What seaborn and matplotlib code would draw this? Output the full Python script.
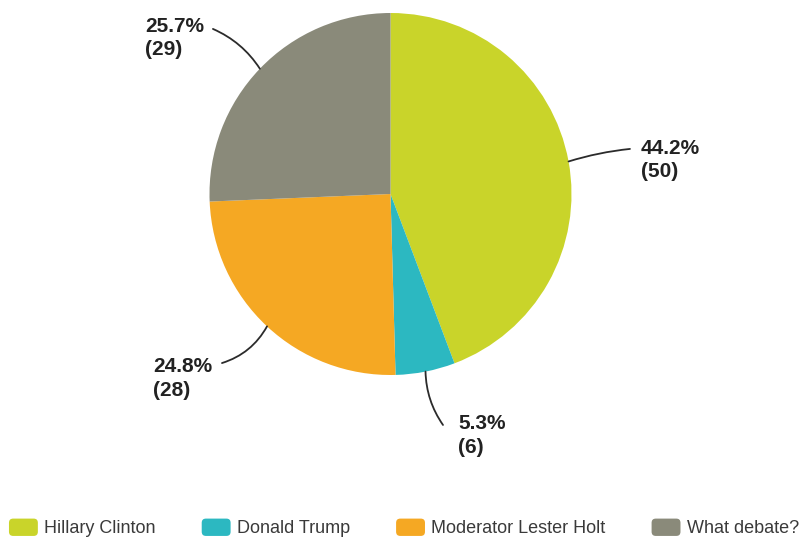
import matplotlib
matplotlib.use("Agg")
import matplotlib.pyplot as plt
from matplotlib.patches import FancyBboxPatch
from matplotlib.legend_handler import HandlerPatch
import seaborn as sns
import numpy as np

# data
labels = ['Hillary Clinton', 'Donald Trump', 'Moderator Lester Holt', 'What debate?']
counts = [50, 6, 28, 29]
percents = [44.2, 5.3, 24.8, 25.7]
colors = ['#c9d42a', '#2cb8c1', '#f5a823', '#8a8a7a']

sns.set_theme(style='white')
plt.rcParams['font.family'] = ['Liberation Sans', 'DejaVu Sans']

fig = plt.figure(figsize=(8.04, 5.42), dpi=100)
cx, cy, r = 390.5, 194, 181  # pie centre/radius in pixels
ax = fig.add_axes([(cx - r) / 804, (542 - cy - r) / 542, 2 * r / 804, 2 * r / 542])

wedges, _ = ax.pie(counts, colors=colors, startangle=90, counterclock=False,
                   radius=1, wedgeprops=dict(linewidth=0))
ax.set_xlim(-1, 1)
ax.set_ylim(-1, 1)
ax.axis('off')

# leader line end (data units) / text position / curvature per slice
line_end = [(1.323, 0.249), (0.290, -1.276), (-0.931, -0.934), (-0.981, 0.912)]
text_pos = [(1.384, 0.188), (0.373, -1.335), (-1.312, -1.018), (-1.356, 0.862)]
curve = [0.05, -0.15, 0.2, -0.15]

for w, pct, n, le, tp, rad in zip(wedges, percents, counts, line_end, text_pos, curve):
    ang = np.deg2rad((w.theta1 + w.theta2) / 2)
    edge = (np.cos(ang), np.sin(ang))
    ax.annotate('', xy=edge, xytext=le,
                arrowprops=dict(arrowstyle='-', color='#2b2b2b', lw=1.3,
                                shrinkA=0, shrinkB=0,
                                connectionstyle=f'arc3,rad={rad}'))
    ax.text(tp[0], tp[1], f'{pct}%\n({n})', ha='left', va='center',
            fontsize=15, fontweight='bold', color='#222222', linespacing=1.3)


class RoundBox(HandlerPatch):
    def create_artists(self, legend, orig, xd, yd, width, height, fontsize, trans):
        p = FancyBboxPatch((-xd, -yd), width, height,
                           boxstyle='round,pad=0,rounding_size=3',
                           facecolor=orig.get_facecolor(), edgecolor='none',
                           transform=trans)
        return [p]


fig.legend(wedges, labels, loc='center', bbox_to_anchor=(0.5025, 14 / 542),
           ncol=4, frameon=False, fontsize=13, handlelength=1.6, handleheight=1.1,
           handletextpad=0.35, columnspacing=2.55, labelcolor='#3a3a3a',
           handler_map={w: RoundBox() for w in wedges})

fig.savefig('out.png', dpi=100)
